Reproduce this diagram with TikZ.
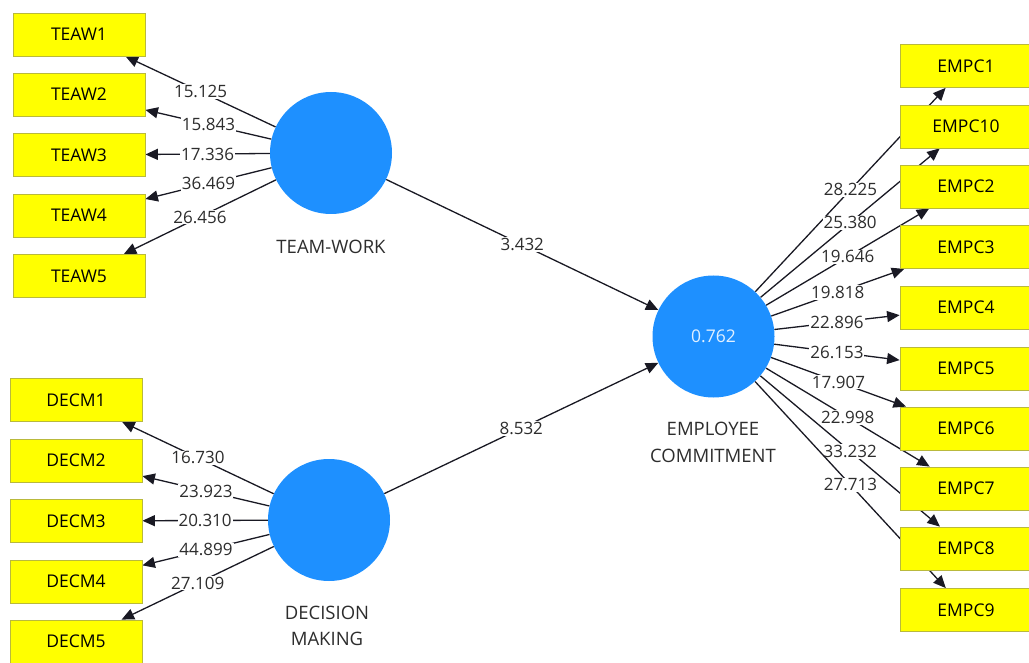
\documentclass[tikz,border=0pt]{standalone}
\usepackage{fontspec}
\setmainfont{Open Sans}
\usetikzlibrary{arrows.meta,backgrounds}
\definecolor{lvblue}{RGB}{30,144,255}
\definecolor{indyel}{RGB}{255,255,0}
\definecolor{indedge}{RGB}{185,185,60}
\definecolor{txtgray}{RGB}{45,45,45}
\tikzset{
  indbox/.style={rectangle, fill=indyel, draw=indedge, line width=0.8pt,
    minimum width=132pt, minimum height=43pt, inner sep=0pt,
    font=\fontsize{17.5}{20}\selectfont, text=black},
  latent/.style={circle, fill=lvblue, draw=none, minimum size=122pt, inner sep=0pt,
    font=\fontsize{17.5}{20}\selectfont, text={rgb,255:red,225;green,240;blue,255}},
  lvlabel/.style={font=\fontsize{18.5}{26.5}\selectfont, text=txtgray, align=center, inner sep=0pt},
  conn/.style={draw={rgb,255:red,25;green,25;blue,35}, line width=1.3pt,
    -{Triangle[length=12.5pt,width=11pt]}},
  wlabel/.style={fill=white, inner sep=1pt, font=\fontsize{17}{20}\selectfont, text=txtgray, pos=0.5}
}
\begin{document}
\begin{tikzpicture}[x=1pt,y=-1pt]
\useasboundingbox (0,0) rectangle (1029,663);
% indicators left top
\node[indbox] (t1) at (79,34.5) {TEAW1};
\node[indbox] (t2) at (79,94.5) {TEAW2};
\node[indbox] (t3) at (79,155) {TEAW3};
\node[indbox] (t4) at (79,215.5) {TEAW4};
\node[indbox] (t5) at (79,276) {TEAW5};
% indicators left bottom
\node[indbox] (d1) at (76,400) {DECM1};
\node[indbox] (d2) at (76,460.5) {DECM2};
\node[indbox] (d3) at (76,521) {DECM3};
\node[indbox] (d4) at (76,581.5) {DECM4};
\node[indbox] (d5) at (76,641.5) {DECM5};
% indicators right
\node[indbox] (e1) at (966,66) {EMPC1};
\node[indbox] (e10) at (966,126.5) {EMPC10};
\node[indbox] (e2) at (966,186.5) {EMPC2};
\node[indbox] (e3) at (966,247) {EMPC3};
\node[indbox] (e4) at (966,307.5) {EMPC4};
\node[indbox] (e5) at (966,368.5) {EMPC5};
\node[indbox] (e6) at (966,428.5) {EMPC6};
\node[indbox] (e7) at (966,488.5) {EMPC7};
\node[indbox] (e8) at (966,548.5) {EMPC8};
\node[indbox] (e9) at (966,610) {EMPC9};
% latent variables
\node[latent] (tw) at (331,153) {};
\node[latent] (dm) at (329,520) {};
\node[latent] (ec) at (713.5,336.5) {0.762};
\node[lvlabel] (twl) at (331,247) {TEAM-WORK};
\node[lvlabel] (dml) at (327,626) {DECISION\\MAKING};
\node[lvlabel] (ecl) at (713,442.5) {EMPLOYEE\\COMMITMENT};
\begin{scope}[on background layer]
% structural paths
\draw[conn] (tw) -- (ec) node[wlabel] {3.432};
\draw[conn] (dm) -- (ec) node[wlabel] {8.532};
% team-work loadings
\draw[conn] (tw) -- (t1) node[wlabel] {15.125};
\draw[conn] (tw) -- (t2) node[wlabel] {15.843};
\draw[conn] (tw) -- (t3) node[wlabel] {17.336};
\draw[conn] (tw) -- (t4) node[wlabel] {36.469};
\draw[conn] (tw) -- (t5) node[wlabel] {26.456};
% decision making loadings
\draw[conn] (dm) -- (d1) node[wlabel] {16.730};
\draw[conn] (dm) -- (d2) node[wlabel] {23.923};
\draw[conn] (dm) -- (d3) node[wlabel] {20.310};
\draw[conn] (dm) -- (d4) node[wlabel] {44.899};
\draw[conn] (dm) -- (d5) node[wlabel] {27.109};
% employee commitment loadings
\draw[conn] (ec) -- (e1) node[wlabel] {28.225};
\draw[conn] (ec) -- (e10) node[wlabel] {25.380};
\draw[conn] (ec) -- (e2) node[wlabel] {19.646};
\draw[conn] (ec) -- (e3) node[wlabel] {19.818};
\draw[conn] (ec) -- (e4) node[wlabel] {22.896};
\draw[conn] (ec) -- (e5) node[wlabel] {26.153};
\draw[conn] (ec) -- (e6) node[wlabel] {17.907};
\draw[conn] (ec) -- (e7) node[wlabel] {22.998};
\draw[conn] (ec) -- (e8) node[wlabel] {33.232};
\draw[conn] (ec) -- (e9) node[wlabel] {27.713};
\end{scope}
\end{tikzpicture}
\end{document}
